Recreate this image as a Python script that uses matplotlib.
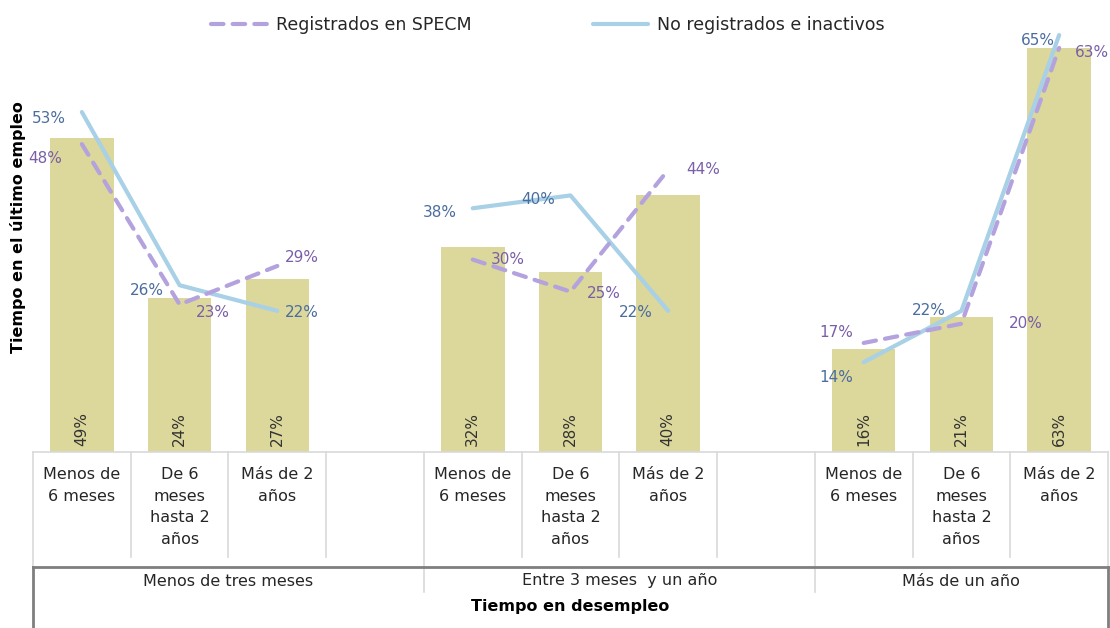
import matplotlib
matplotlib.use("Agg")
import matplotlib.pyplot as plt
import numpy as np

plt.rcParams['font.family'] = ['DejaVu Sans']

groups = ["Menos de tres meses", "Entre 3 meses  y un año", "Más de un año"]
subcats = ["Menos de\n6 meses", "De 6\nmeses\nhasta 2\naños", "Más de 2\naños"]
bar_vals = [49, 24, 27, 32, 28, 40, 16, 21, 63]
reg_vals = [48, 23, 29, 30, 25, 44, 17, 20, 63]
noreg_vals = [53, 26, 22, 38, 40, 22, 14, 22, 65]
series_names = ["Registrados en SPECM", "No registrados e inactivos"]
ylabel = "Tiempo en el último empleo"
xlabel = "Tiempo en desempleo"

# label offsets in pixels (dx, dy, ha)
reg_off = [(-20, -14, 'right'), (16, -8, 'left'), (8, 8, 'left'),
           (18, 0, 'left'), (16, -2, 'left'), (18, 0, 'left'),
           (-10, 10, 'right'), (47, 0, 'left'), (16, -5, 'left')]
noreg_off = [(-16, -6, 'right'), (-16, -5, 'right'), (8, -2, 'left'),
             (-16, -4, 'right'), (-15, -4, 'right'), (-15, -2, 'right'),
             (-10, -15, 'right'), (-16, 0, 'right'), (-4, -5, 'right')]

bar_color = "#DCD79A"
reg_color = "#B3A2DD"
noreg_color = "#A8D0E6"
reg_txt = "#7A5EA8"
noreg_txt = "#4A6D9E"

W, H = 1110, 628
fig = plt.figure(figsize=(W / 100, H / 100), dpi=100)
left_px, right_px, top_px, bot_px = 33, 1108, 3, 452
ax = fig.add_axes([left_px / W, 1 - bot_px / H, (right_px - left_px) / W, (bot_px - top_px) / H])

nslots = 11
pos = []
for g in range(3):
    for i in range(3):
        pos.append(g * 4 + i)
pos = np.array(pos)

ax.bar(pos, bar_vals, width=0.65, color=bar_color, zorder=1)
for x, v in zip(pos, bar_vals):
    ax.text(x, 1.0, f"{v}%", rotation=90, ha='center', va='bottom', fontsize=11, color="#333333")

for g in range(3):
    sl = slice(g * 3, g * 3 + 3)
    ax.plot(pos[sl], noreg_vals[sl], color=noreg_color, lw=3, solid_capstyle='round',
            label=series_names[1] if g == 0 else None, zorder=3)
    ax.plot(pos[sl], reg_vals[sl], color=reg_color, lw=3, dashes=(3, 2.2), dash_capstyle='round',
            label=series_names[0] if g == 0 else None, zorder=4)

for x, v, (dx, dy, ha) in zip(pos, reg_vals, reg_off):
    ax.annotate(f"{v}%", (x, v), xytext=(dx, dy), textcoords='offset pixels',
                ha=ha, va='center', fontsize=11, color=reg_txt, zorder=5)
for x, v, (dx, dy, ha) in zip(pos, noreg_vals, noreg_off):
    ax.annotate(f"{v}%", (x, v), xytext=(dx, dy), textcoords='offset pixels',
                ha=ha, va='center', fontsize=11, color=noreg_txt, zorder=5)

ax.set_xlim(-0.5, nslots - 0.5)
ax.set_ylim(0, 70)
for s in ax.spines.values():
    s.set_visible(False)
ax.set_xticks([])
ax.set_yticks([])

# category table below the axis
light = "#D9D9D9"
dark = "#7F7F7F"
def fx(px):
    return px / W
def fy(py):
    return 1 - py / H

slot_w = (right_px - left_px) / nslots
fig.add_artist(plt.Line2D([fx(left_px), fx(right_px)], [fy(bot_px), fy(bot_px)], color=light, lw=1.2))
for k in range(nslots + 1):
    xp = left_px + k * slot_w
    if k in (0, nslots):
        fig.add_artist(plt.Line2D([fx(xp), fx(xp)], [fy(bot_px), fy(567)], color=light, lw=1.2))
    elif k in (4, 8):
        fig.add_artist(plt.Line2D([fx(xp), fx(xp)], [fy(bot_px), fy(592)], color=light, lw=1.2))
    else:
        fig.add_artist(plt.Line2D([fx(xp), fx(xp)], [fy(bot_px), fy(557)], color=light, lw=1.2))

for x, k in zip(pos, range(9)):
    xp = left_px + (x + 0.5) * slot_w
    fig.text(fx(xp), fy(467), subcats[k % 3], ha='center', va='top', fontsize=11.5,
             color="#262626", linespacing=1.55)

# outer dark box
fig.add_artist(plt.Line2D([fx(left_px), fx(right_px)], [fy(567), fy(567)], color=dark, lw=2))
fig.add_artist(plt.Line2D([fx(left_px), fx(left_px)], [fy(567), 0], color=dark, lw=2))
fig.add_artist(plt.Line2D([fx(right_px), fx(right_px)], [fy(567), 0], color=dark, lw=2))

group_centers = [left_px + 2 * slot_w, left_px + 6 * slot_w, left_px + 9.5 * slot_w]
for gc, gname in zip(group_centers, groups):
    fig.text(fx(gc), fy(581), gname, ha='center', va='center', fontsize=11.5, color="#262626")
fig.text(fx((left_px + right_px) / 2), fy(606), xlabel, ha='center', va='center',
         fontsize=11.5, fontweight='bold', color="black")

fig.text(fx(18), fy(227), ylabel, rotation=90, ha='center', va='center',
         fontsize=11.5, fontweight='bold', color="black")

handles, labels = ax.get_legend_handles_labels()
order = [labels.index(series_names[0]), labels.index(series_names[1])]
fig.legend([handles[i] for i in order], [labels[i] for i in order],
           loc='center', bbox_to_anchor=(fx(548), fy(25)), ncol=2, frameon=False,
           fontsize=12.5, handlelength=3.2, columnspacing=7, handletextpad=0.5,
           labelcolor="#262626")

fig.savefig("out.png", dpi=100)
